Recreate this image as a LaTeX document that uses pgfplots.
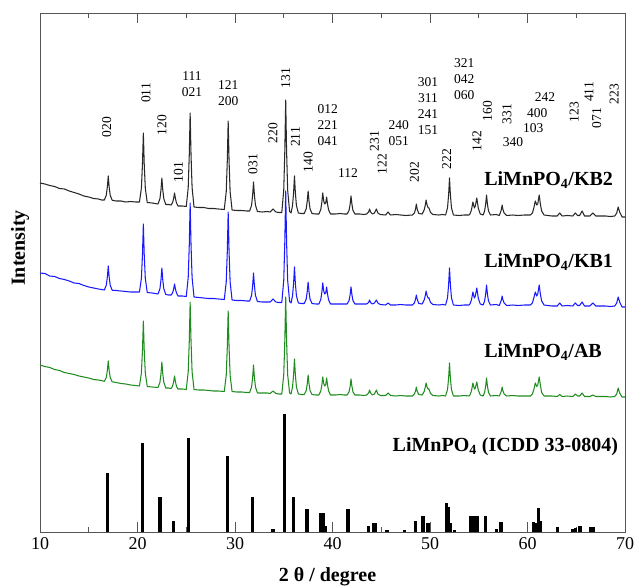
\documentclass[border=0pt]{standalone}
\usepackage{fontspec}
\setmainfont{Liberation Serif}
\usepackage{pgfplots}
\usepackage{pgfplotstable}
\pgfplotsset{compat=1.18}
\definecolor{kbtwo}{RGB}{40,40,40}
\definecolor{kbone}{RGB}{25,25,255}
\definecolor{abgreen}{RGB}{30,140,30}
\definecolor{framec}{RGB}{85,85,85}

\pgfplotstableread{
x k2 k1 ab
10.0 349 259 167
10.5 348 258.5 165.5
11.0 346.5 256 164.5
11.5 345.5 255.5 162.5
12.0 343.5 253.5 161.5
12.5 343 252.5 159.5
13.0 341 251 158.5
13.5 339.5 249 157.5
14.0 338 248.5 156
14.5 336 246.5 155
15.0 335 245 154
15.5 333.5 244 152.5
16.0 333 243 152
16.3 332 242.5 151.5
16.6 332 242 150.7
16.8 336.8 246.8 154.6
16.91 345.2 255.2 161.8
17.0 356 266 171
17.09 345.2 255.2 161.8
17.2 336.8 246.8 154.6
17.4 331.8 241.8 150.2
17.8 331 241.5 149.5
18.3 331 241 148.5
18.8 330 240.5 148
19.3 330.5 240 147
19.8 330 240 146.5
20.2 330 240 146
20.4 343.8 253.6 159
20.51 368 277.4 181.8
20.6 399 308 211
20.69 368 277.4 181.8
20.8 343.8 253.6 159
21.0 329.5 239.5 145.5
21.5 329 239 145
22.1 328 238 144.5
22.3 333.2 243.2 149.6
22.41 342.3 252.3 158.5
22.5 354 264 170
22.59 342.3 252.3 158.5
22.7 333.2 243.2 149.6
22.9 327.5 237.5 144
23.2 327.5 237 144
23.45 327 237 143.5
23.6 329.4 239.2 146
23.71 333.6 243 150.4
23.8 339 248 156
23.89 333.6 243 150.4
24.0 329 239 145.5
24.15 326 236 143
24.6 326 236 143
25.0 325.5 235.5 142.5
25.2 344.2 254.2 160
25.31 377 286.9 190.6
25.4 419 329 230
25.49 377 286.9 190.6
25.6 344.2 254.2 160
25.8 325 235 142.5
26.3 324.5 234.5 142
26.8 324.5 234 142
27.3 323.5 233.5 141.5
27.8 323.5 233.5 141
28.3 323 233 141
28.9 322.5 232.5 140.5
29.1 340.2 250 156.6
29.21 371.2 280.6 184.8
29.3 411 320 221
29.39 371.2 280.6 184.8
29.5 340.2 250 156.6
29.7 322 232 140.5
30.2 321.5 231.5 140
30.7 321.5 231.5 140
31.2 321 231 139.5
31.5 321 231 139.5
31.7 326.8 236.6 145
31.81 337 246.4 154.6
31.9 350 259 167
31.99 337 246.4 154.6
32.1 326.8 236.6 145
32.3 320.5 230.5 139
32.8 320 230 139
33.3 320.5 230 139
33.6 320 230 138.5
33.9 323 233 141
34.2 320 230 138.5
34.5 319.5 229.5 138
34.8 319.5 229.5 138
35.0 342 251.8 157.4
35.11 381.4 290.8 191.4
35.2 432 341 235
35.29 381.4 290.8 191.4
35.4 342 251.8 157.4
35.6 320.5 230.5 139
35.75 319 229 138
35.9 326.4 236.2 145
36.01 339.4 248.8 157.3
36.1 356 265 173
36.19 339.4 248.8 157.3
36.3 326.4 236.2 145
36.5 319 229 138
36.8 318.5 228.5 137.5
37.1 318.5 228.5 137.5
37.3 323 232.8 141.4
37.41 330.9 240.3 148.2
37.5 341 250 157
37.59 330.9 240.3 148.2
37.7 323 232.8 141.4
37.9 318.5 228.5 137.5
38.3 318 228 137
38.6 318 228 137
38.8 322.5 232.5 141
38.91 330 240 147
39.0 339 249 155
39.1 331 241 148.5
39.2 328 238 146
39.3 329 239 147
39.4 335 245 154
39.49 328 238 147
39.6 322 232 141
39.8 318 228 137
40.3 318 228 137
40.8 318.5 228 137.5
41.2 318 228 137
41.5 318 228 137
41.7 321.6 231.4 140.2
41.81 327.9 237.4 145.8
41.9 336 245 153
41.99 327.9 237.4 145.8
42.1 321.6 231.4 140.2
42.3 318 228 137
42.8 318 228 137
43.2 317.5 228 136.5
43.5 318 228 137
43.7 320 229.5 139
43.8 323 232 142
43.9 320 229.5 139
44.1 318 228 137
44.3 319 229 138
44.5 323 232 142
44.65 319 229 138
44.9 317.5 227.5 136.5
45.45 317 227 136.5
45.7 320 229 139
45.95 317 227 136.5
46.5 317.5 227 136
47.0 317 227.5 136.5
47.5 316.5 227 136
48.2 317 227 136
48.4 319 229 138
48.52 323 233 141
48.6 328 237 145
48.68 323 233 141
48.85 318.5 228.5 137.5
49.2 318 228 137
49.4 322 232 140.5
49.52 327 236.5 145
49.6 332 241 149
49.7 327 236.5 145
49.8 324.5 234 143
49.9 324 234 143
50.05 319.5 229.5 138.5
50.3 317.5 227.5 136.5
50.9 317 227 136
51.3 317.5 227.5 136.5
51.6 317 227 136
51.8 324.4 234.4 142.6
51.91 337.4 247.4 154.2
52.0 354 264 169
52.09 337.4 247.4 154.2
52.2 324.4 234.4 142.6
52.4 317 227 136
53.0 316.5 226.5 136
53.5 317 227 136.5
54.0 317 227 136
54.1 318 228 137
54.25 322 232 141
54.4 330 240 149
54.55 324 234 143
54.65 326 236 144
54.8 334 244 150
54.95 324 234 142
55.15 318 228 137
55.45 317 227 136
55.6 321 231 139.6
55.71 328 238 146
55.8 337 247 154
55.89 328 238 146
56.0 321 231 139.6
56.2 317 227 136
56.8 317.5 227.5 136.5
57.1 316.5 226.5 136
57.25 320 230 139
57.33 323 232.5 141.5
57.4 327 236 145
57.47 323 232.5 141.5
57.6 319 229 138
57.85 316.5 226.5 136
58.5 317 227 136.5
59.0 316.5 226.5 136
59.7 317 227 136
60.3 317 227 136
60.5 319 229 138
60.65 324 234 142.5
60.8 331 240 149
60.95 327 236 145.5
61.05 328 238 147
61.2 337 247 155
61.32 328 238 147
61.45 321 231 139.5
61.7 317 227 136
62.5 316 226 136
63.05 316 226 135.5
63.3 319 229 137.5
63.55 316 226 135.5
64.1 316.5 226.5 136
64.65 316 226 135.5
64.9 319 229 138
65.15 316.5 226.5 136
65.35 316.5 226.5 136
65.6 321 230 139
65.85 316 226 135.5
66.4 316 226 135.5
66.7 319 229 137
67.0 316 226 135.5
68.0 316 226 135.5
68.5 315.5 225.5 135
68.95 316 226 135.5
69.15 319 229 138
69.3 325 235 144
69.45 320 230 139
69.7 315 225 135
70.0 315 225 135
}\xrd

\pgfplotstableread{
x h
16.9 59
20.5 89
22.3 35
23.7 11
25.2 94
29.2 76
31.8 35
33.9 3
35.1 118
36.0 35
37.4 23
38.8 19
39.1 19
39.3 6
41.6 23
43.7 6
44.2 9
44.4 9
45.6 2
47.4 2
48.5 11
49.3 16
49.8 9
51.7 29
51.9 25
52.1 9
52.5 2
54.2 16
54.4 16
54.8 16
55.7 16
56.8 3
57.3 10
60.6 10
60.8 9
61.1 24
61.3 11
63.1 5
64.6 3
64.9 4
65.4 6
66.5 5
66.7 5
}\icdd

\tikzset{
  hkl/.style={font=\fontsize{13.5}{16}\selectfont, inner sep=0pt, align=center},
  lab/.style={font=\fontsize{20}{22}\selectfont\bfseries, inner sep=0pt},
}

\begin{document}
\begin{tikzpicture}
\begin{axis}[
  scale only axis, width=585pt, height=519pt,
  xmin=10, xmax=70, ymin=0, ymax=519,
  ytick=\empty,
  xtick={10,20,...,70}, minor xtick={15,25,...,65},
  tick align=inside, major tick length=10pt, minor tick length=5pt,
  axis line style={framec, line width=0.9pt},
  tick style={framec, line width=0.9pt},
  /pgf/number format/assume math mode=true,
  xticklabel style={font=\fontsize{18}{20}\selectfont, yshift=-2pt},
  xlabel={\textbf{2 θ / degree}},
  xlabel style={font=\fontsize{20}{22}\selectfont, at={(axis description cs:0.4915,-0.0867)}, anchor=center},
  ylabel={\textbf{Intensity}},
  ylabel style={font=\fontsize{20}{22}\selectfont, at={(axis description cs:-0.0342,0.547)}, anchor=center},
]
\addplot[kbtwo, line width=1.05pt, line join=round] table[x=x, y=k2] {\xrd};
\addplot[kbone, line width=1.05pt, line join=round] table[x=x, y=k1] {\xrd};
\addplot[abgreen, line width=1.05pt, line join=round] table[x=x, y=ab] {\xrd};
\addplot[black, ycomb, line width=3.4pt] table[x=x, y=h] {\icdd};

\node[hkl, rotate=90] at (axis cs:16.85,405) {020};
\node[hkl, rotate=90] at (axis cs:20.87,439) {011};
\node[hkl, rotate=90] at (axis cs:22.5,407) {120};
\node[hkl, rotate=90] at (axis cs:24.2,360) {101};
\node[hkl] at (axis cs:25.6,447.5) {111\\021};
\node[hkl] at (axis cs:29.3,438.5) {121\\200};
\node[hkl, rotate=90] at (axis cs:31.85,368) {031};
\node[hkl, rotate=90] at (axis cs:33.9,399) {220};
\node[hkl, rotate=90] at (axis cs:35.2,454) {131};
\node[hkl, rotate=90] at (axis cs:36.2,395) {211};
\node[hkl, rotate=90] at (axis cs:37.5,370) {140};
\node[hkl] at (axis cs:39.5,407) {012\\221\\041};
\node[hkl] at (axis cs:41.6,359) {112};
\node[hkl, rotate=90] at (axis cs:44.3,391) {231};
\node[hkl, rotate=90] at (axis cs:45.1,368) {122};
\node[hkl] at (axis cs:46.8,398.5) {240\\051};
\node[hkl, rotate=90] at (axis cs:48.4,360) {202};
\node[hkl] at (axis cs:49.8,426) {301\\311\\241\\151};
\node[hkl, rotate=90] at (axis cs:51.7,373) {222};
\node[hkl] at (axis cs:53.5,452.7) {321\\042\\060};
\node[hkl, rotate=90] at (axis cs:54.8,391) {142};
\node[hkl, rotate=90] at (axis cs:55.9,421) {160};
\node[hkl, rotate=90] at (axis cs:57.9,418) {331};
\node[hkl] at (axis cs:58.5,390) {340};
\node[hkl] at (axis cs:61.8,435) {242};
\node[hkl] at (axis cs:61.0,419) {400};
\node[hkl] at (axis cs:60.6,404) {103};
\node[hkl, rotate=90] at (axis cs:64.8,420) {123};
\node[hkl, rotate=90] at (axis cs:66.3,440) {411};
\node[hkl, rotate=90] at (axis cs:67.1,414) {071};
\node[hkl, rotate=90] at (axis cs:68.9,438) {223};

\node[lab, anchor=west] at (axis cs:55.55,352) {LiMnPO\textsubscript{4}/KB2};
\node[lab, anchor=west] at (axis cs:55.55,270) {LiMnPO\textsubscript{4}/KB1};
\node[lab, anchor=west] at (axis cs:55.55,180) {LiMnPO\textsubscript{4}/AB};
\node[lab, anchor=east] at (axis cs:69.3,85) {LiMnPO\textsubscript{4} (ICDD 33-0804)};
\end{axis}
\pgfresetboundingbox
\path ([shift={(-40pt,-55pt)}]current axis.south west) rectangle ([shift={(11pt,13pt)}]current axis.north east);
\end{tikzpicture}
\end{document}
